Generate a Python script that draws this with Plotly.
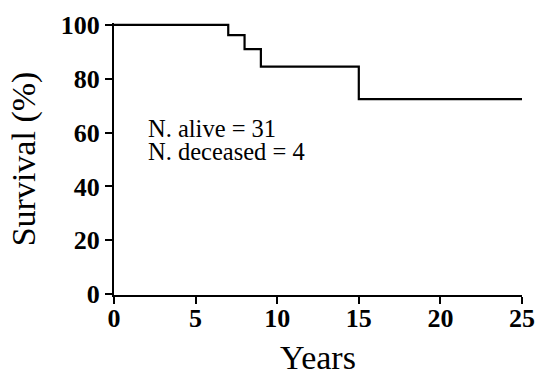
import plotly.graph_objects as go

# Kaplan-Meier step data (event times in years, survival %)
years = [0, 7, 8, 9, 15, 25]
survival = [100, 96.2, 91.0, 84.5, 72.4, 72.4]

x_ticks = [0, 5, 10, 15, 20, 25]
y_ticks = [0, 20, 40, 60, 80, 100]
annotation_lines = ["N. alive = 31", "N. deceased = 4"]
x_title = "Years"
y_title = "Survival (%)"

fig = go.Figure()
fig.add_trace(go.Scatter(
    x=years, y=survival, mode="lines",
    line=dict(shape="hv", color="black", width=2.2),
    showlegend=False, hoverinfo="skip",
))

for i, txt in enumerate(annotation_lines):
    fig.add_annotation(
        x=1.95, y=[61.5, 53.0][i], xref="x", yref="y", text=txt, showarrow=False,
        xanchor="left", yanchor="middle",
        font=dict(family="Liberation Serif", size=24.5, color="black"),
    )

# x-axis title placed as an annotation for exact vertical placement
fig.add_annotation(
    x=0.5, y=-0.23, xref="x domain", yref="paper", text=x_title, showarrow=False,
    xanchor="center", yanchor="middle",
    font=dict(family="Liberation Serif", size=34, color="black"),
)

axis_common = dict(
    showline=True, linecolor="black", linewidth=2.2,
    ticks="outside", ticklen=7, tickwidth=2, tickcolor="black",
    showgrid=False, zeroline=False, automargin=False,
    tickfont=dict(family="Liberation Serif", size=26, color="black", weight="bold"),
    title_font=dict(family="Liberation Serif", size=34, color="black"),
)

fig.update_xaxes(
    range=[0, 25], tickvals=x_ticks, ticktext=[str(v) for v in x_ticks],
    ticklabelstandoff=-8, ticklabeloverflow="allow", **axis_common,
)
fig.update_yaxes(
    range=[-0.3, 100.7], tickvals=y_ticks, ticktext=[str(v) for v in y_ticks],
    title_text=y_title, title_standoff=15, **axis_common,
)

fig.update_layout(
    width=535, height=375,
    margin=dict(l=114, r=13, t=23, b=80),
    plot_bgcolor="white", paper_bgcolor="white",
)

# remove the default page margin so the figure fills the window exactly
fig.write_html(
    "out.html",
    config={"displayModeBar": False},
    post_script="document.body.style.margin='0';",
)
